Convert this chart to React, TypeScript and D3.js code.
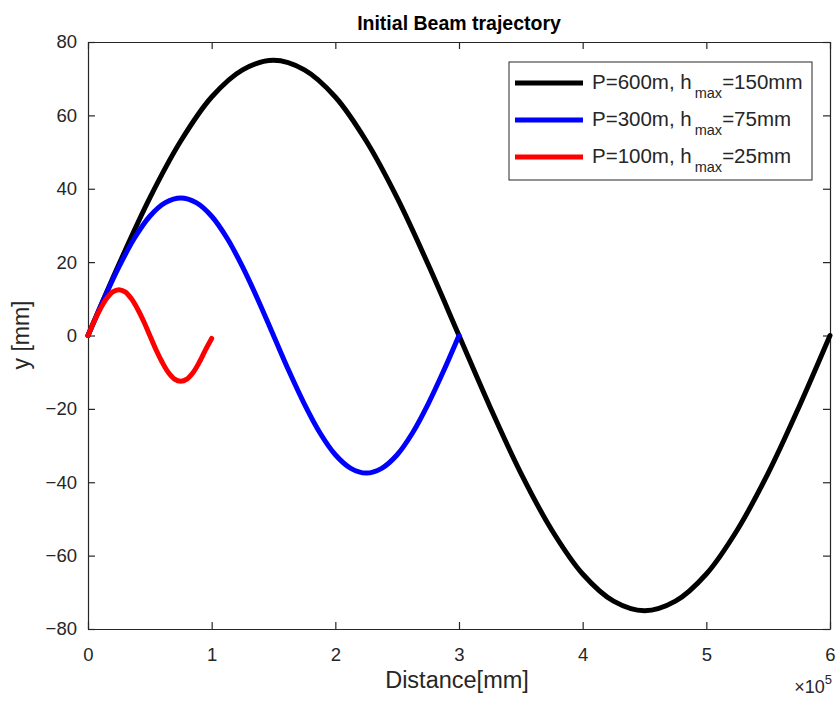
import React, { useRef, useEffect } from 'react';
import * as d3 from 'd3';

// x positions in units of 1e5 mm
const blackX = [0, 0.25, 0.5, 0.75, 1, 1.25, 1.5, 1.75, 2, 2.25, 2.5, 2.75, 3, 3.25, 3.5, 3.75, 4, 4.25, 4.5, 4.75, 5, 5.25, 5.5, 5.75, 6];
const blackY = [0, 19.4, 37.5, 53, 65, 72.4, 75, 72.4, 65, 53, 37.5, 19.4, 0, -19.4, -37.5, -53, -65, -72.4, -75, -72.4, -65, -53, -37.5, -19.4, 0];

const blueX = [0, 0.125, 0.25, 0.375, 0.5, 0.625, 0.75, 0.875, 1, 1.125, 1.25, 1.375, 1.5, 1.625, 1.75, 1.875, 2, 2.125, 2.25, 2.375, 2.5, 2.625, 2.75, 2.875, 3];
const blueY = [0, 9.7, 18.7, 26.5, 32.5, 36.2, 37.5, 36.2, 32.5, 26.5, 18.7, 9.7, 0, -9.7, -18.7, -26.5, -32.5, -36.2, -37.5, -36.2, -32.5, -26.5, -18.7, -9.7, 0];

const redX = [0, 0.05, 0.1, 0.15, 0.2, 0.25, 0.3, 0.35, 0.4, 0.45, 0.5, 0.55, 0.6, 0.65, 0.7, 0.75, 0.8, 0.85, 0.9, 0.95, 1];
const redY = [0, 3.9, 7.3, 10.1, 11.9, 12.5, 11.9, 10.1, 7.3, 3.9, 0, -3.9, -7.3, -10.1, -11.9, -12.5, -11.9, -10.1, -7.3, -3.9, -0.8];

const xTicks = [0, 1, 2, 3, 4, 5, 6];
const yTicks = [-80, -60, -40, -20, 0, 20, 40, 60, 80];

const seriesLabels = [
	{ pre: 'P=600m, h', sub: 'max', post: '=150mm', color: '#000000' },
	{ pre: 'P=300m, h', sub: 'max', post: '=75mm', color: '#0000ff' },
	{ pre: 'P=100m, h', sub: 'max', post: '=25mm', color: '#ff0000' },
];

export default function App() {
	const svgWidth = 840;
	const svgHeight = 703;
	const ref = useRef<SVGSVGElement>(null);

	useEffect(() => {
		if (!ref.current) return;
		const margin = { top: 42, right: 10, bottom: 74, left: 88 };
		const width = 830 - margin.left;
		const height = 629 - margin.top;
		const font = 'Liberation Sans, Arial, Helvetica, sans-serif';
		const axisColor = '#262626';

		d3.select(ref.current).selectAll('*').remove();
		const root = d3.select(ref.current).style('font-family', font);
		const svg = root.append('g').attr('transform', `translate(${margin.left},${margin.top})`);

		const xScale = d3.scaleLinear().domain([0, 6]).range([0, width]);
		const yScale = d3.scaleLinear().domain([-80, 80]).range([height, 0]);

		svg.append('rect').attr('width', width).attr('height', height).attr('fill', '#fff');

		/* MATLAB style: ticks point inward on all four sides */
		const tl = 7;
		const bottomAxis = svg.append('g').attr('transform', `translate(0,${height})`)
			.call(d3.axisBottom(xScale).tickValues(xTicks).tickSizeInner(-tl).tickSizeOuter(0).tickPadding(19).tickFormat(d3.format('d')));
		svg.append('g').call(d3.axisTop(xScale).tickValues(xTicks).tickSizeInner(-tl).tickSizeOuter(0).tickFormat(() => ''));
		svg.append('g')
			.call(d3.axisLeft(yScale).tickValues(yTicks).tickSizeInner(-tl).tickSizeOuter(0).tickPadding(11).tickFormat(d3.format('d')));
		svg.append('g').attr('transform', `translate(${width},0)`)
			.call(d3.axisRight(yScale).tickValues(yTicks).tickSizeInner(-tl).tickSizeOuter(0).tickFormat(() => ''));

		svg.selectAll('.domain').attr('stroke', axisColor).attr('stroke-width', 1.2);
		svg.selectAll('.tick line').attr('stroke', axisColor).attr('stroke-width', 1.2);
		svg.selectAll('.tick text').attr('fill', axisColor).style('font-size', '18.5px').style('font-family', font);
		bottomAxis.selectAll('.tick text').attr('dy', '0.71em');

		const line = d3.line<[number, number]>()
			.x((d) => xScale(d[0]))
			.y((d) => yScale(d[1]))
			.curve(d3.curveCatmullRom);

		const series = [
			{ xs: blackX, ys: blackY, color: '#000000' },
			{ xs: blueX, ys: blueY, color: '#0000ff' },
			{ xs: redX, ys: redY, color: '#ff0000' },
		];
		series.forEach((s) => {
			const pts = s.xs.map((x, i) => [x, s.ys[i]] as [number, number]);
			svg.append('path').datum(pts)
				.attr('fill', 'none')
				.attr('stroke', s.color)
				.attr('stroke-width', 5)
				.attr('stroke-linecap', 'round')
				.attr('stroke-linejoin', 'round')
				.attr('d', line);
		});

		/* legend */
		const legend = root.append('g').attr('transform', 'translate(509,62)');
		legend.append('rect').attr('width', 303).attr('height', 118)
			.attr('fill', '#fff').attr('stroke', axisColor).attr('stroke-width', 1);
		seriesLabels.forEach((s, i) => {
			const y = 21 + i * 37;
			legend.append('line').attr('x1', 6).attr('x2', 74).attr('y1', y).attr('y2', y)
				.attr('stroke', s.color).attr('stroke-width', 5);
			const t = legend.append('text').attr('x', 83).attr('y', y + 6)
				.attr('fill', axisColor).style('font-size', '20.5px');
			t.append('tspan').text(s.pre);
			t.append('tspan').attr('dx', 3).attr('dy', 8.5).style('font-size', '14.5px').text(s.sub);
			t.append('tspan').attr('dy', -8.5).text(s.post);
		});

		root.append('text').attr('x', 459).attr('y', 30).attr('text-anchor', 'middle')
			.style('font-size', '19.5px').style('font-weight', 'bold').attr('fill', '#000')
			.text('Initial Beam trajectory');

		root.append('text').attr('x', 457).attr('y', 688).attr('text-anchor', 'middle')
			.style('font-size', '23.5px').attr('fill', axisColor).text('Distance[mm]');

		root.append('text').attr('transform', 'rotate(-90)').attr('x', -335).attr('y', 29)
			.attr('text-anchor', 'middle').style('font-size', '23px').attr('fill', axisColor).text('y [mm]');

		const exp = root.append('text').attr('x', 832).attr('y', 693).attr('text-anchor', 'end')
			.style('font-size', '18px').attr('fill', axisColor);
		exp.append('tspan').text('\u00d710');
		exp.append('tspan').attr('dy', -9).style('font-size', '13px').text('5');
	}, []);

	return (
		<svg ref={ref} width={svgWidth} height={svgHeight}
			style={{ position: 'absolute', left: 0, top: 0, background: '#fff' }} />
	);
}
